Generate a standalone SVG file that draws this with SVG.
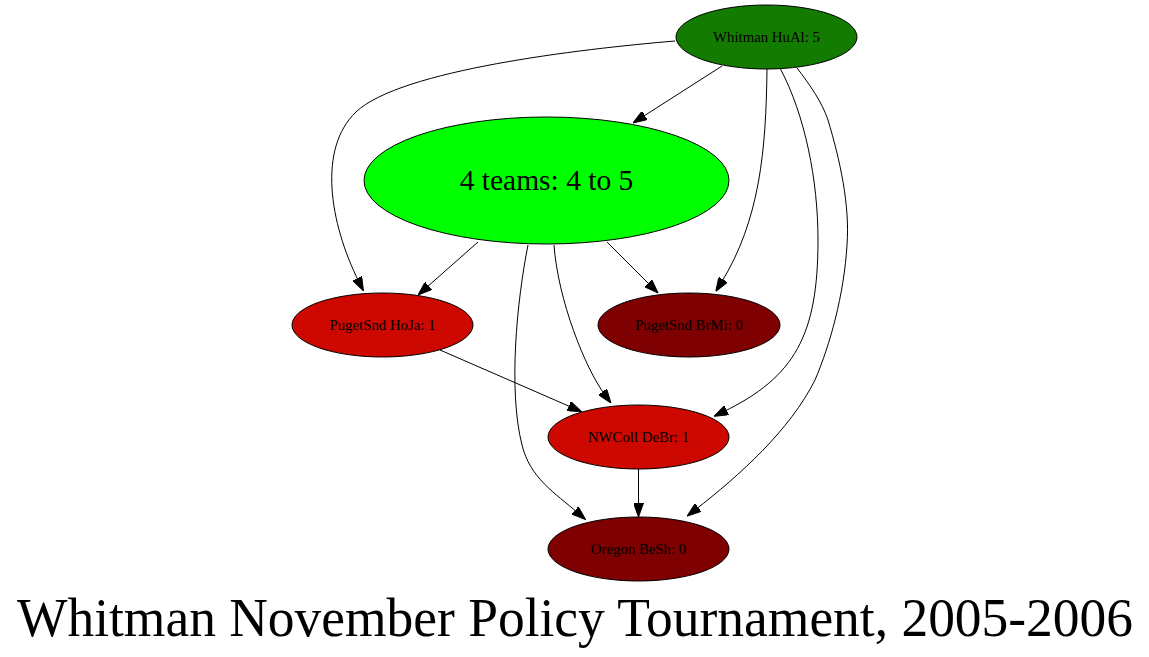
<svg xmlns="http://www.w3.org/2000/svg" width="1149" height="657" viewBox="0 0 1149 657">
<style>
.node ellipse{stroke:#000;stroke-width:1}
.lbl{font-family:"Liberation Serif","Times New Roman",serif;font-size:14.8px;text-anchor:middle;fill:#000}
.edge{fill:none;stroke:#000;stroke-width:1}
</style>
<defs>
<marker id="arr" viewBox="0 0 14 10" refX="4" refY="5" markerWidth="14" markerHeight="10" markerUnits="userSpaceOnUse" orient="auto">
<polygon points="0,0 14,5 0,10" fill="#000" stroke="#000" stroke-width="1"/>
</marker>
</defs>
<rect width="1149" height="657" fill="#fff"/>
<g id="edges">
<path class="edge" marker-end="url(#arr)" d="M675,41 C580,49 400,70 356,112 C318,148 329,222 359,282"/>
<path class="edge" marker-end="url(#arr)" d="M722,66 L641.4,117.6"/>
<path class="edge" marker-end="url(#arr)" d="M767,69 C766,150 760,220 721,283"/>
<path class="edge" marker-end="url(#arr)" d="M780,68 C805,115 818,180 818,240 C818,335 795,377 723,412"/>
<path class="edge" marker-end="url(#arr)" d="M797,68 C810,85 822,102 828,120 C840,160 850,205 847,245 C844,295 830,345 815,380 C790,430 740,475 695,510"/>
<path class="edge" marker-end="url(#arr)" d="M478,242 L425.5,288.4"/>
<path class="edge" marker-end="url(#arr)" d="M607,242 L651,286"/>
<path class="edge" marker-end="url(#arr)" d="M554,245 C558,300 585,368 605,395"/>
<path class="edge" marker-end="url(#arr)" d="M528,245 C517,300 508,390 522,445 C530,478 555,493 578,513"/>
<path class="edge" marker-end="url(#arr)" d="M440,350 L572.5,407.7"/>
<path class="edge" marker-end="url(#arr)" d="M638.5,469 L638.5,507"/>
</g>
<g id="node-whitman" class="node">
<ellipse cx="766.5" cy="37" rx="90.5" ry="32" fill="#137b00"/>
<text class="lbl" x="766.5" y="42">Whitman HuAl: 5</text>
</g>
<g id="node-group" class="node">
<ellipse cx="546.5" cy="180.5" rx="182.5" ry="63.5" fill="#00ff00"/>
<text class="lbl" x="546.5" y="190" style="font-size:29.5px">4 teams: 4 to 5</text>
</g>
<g id="node-hoja" class="node">
<ellipse cx="382.5" cy="325" rx="90.5" ry="32" fill="#cc0800"/>
<text class="lbl" x="382.5" y="330">PugetSnd HoJa: 1</text>
</g>
<g id="node-brmi" class="node">
<ellipse cx="689" cy="325" rx="91" ry="32" fill="#7f0000"/>
<text class="lbl" x="689" y="330">PugetSnd BrMi: 0</text>
</g>
<g id="node-debr" class="node">
<ellipse cx="638.5" cy="437" rx="90.5" ry="32" fill="#cc0800"/>
<text class="lbl" x="638.5" y="442">NWColl DeBr: 1</text>
</g>
<g id="node-besh" class="node">
<ellipse cx="638.5" cy="549" rx="90.5" ry="32" fill="#7f0000"/>
<text class="lbl" x="638.5" y="554">Oregon BeSh: 0</text>
</g>
<text x="575" y="636" style="font-family:'Liberation Serif','Times New Roman',serif;font-size:54px;fill:#000;text-anchor:middle" textLength="1116" lengthAdjust="spacingAndGlyphs">Whitman November Policy Tournament, 2005-2006</text>
</svg>
